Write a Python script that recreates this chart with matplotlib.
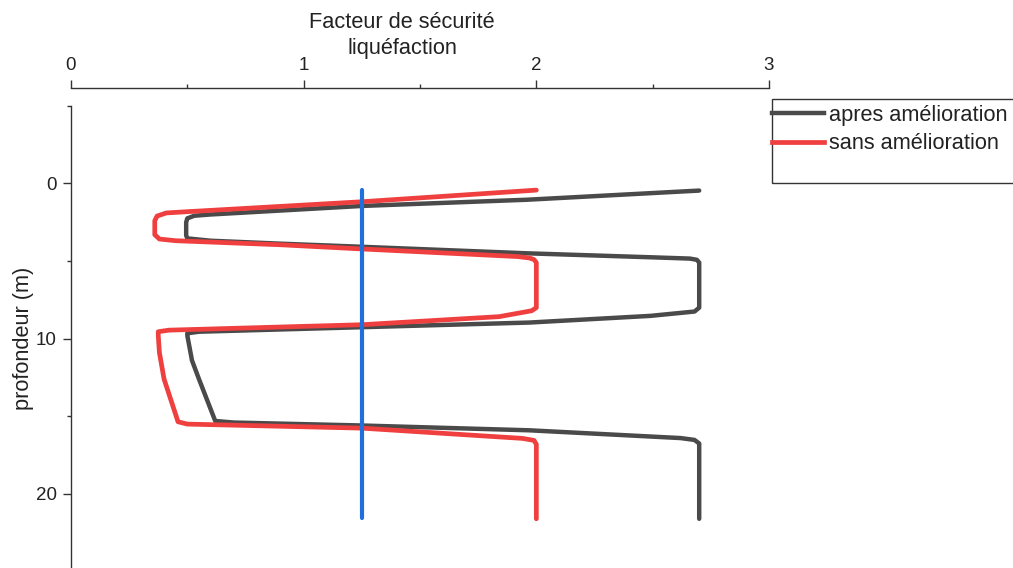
import matplotlib
matplotlib.use("Agg")
import matplotlib.pyplot as plt
from matplotlib.lines import Line2D
from matplotlib.patches import Rectangle

plt.rcParams['font.family'] = ['Liberation Sans', 'DejaVu Sans']

# Safety factor profiles (FS vs depth in m)
apres_fs = [2.70, 1.96, 1.25, 0.60, 0.53, 0.50, 0.495, 0.495, 0.50, 0.60, 0.90, 1.25,
            1.96, 2.50, 2.66, 2.69, 2.70, 2.70, 2.68, 2.49, 1.97, 1.25, 0.55, 0.50,
            0.50, 0.52, 0.55, 0.62, 0.70, 1.25, 1.97, 2.62, 2.68, 2.70, 2.70]
apres_depth = [0.46, 1.05, 1.45, 2.00, 2.08, 2.25, 2.50, 3.35, 3.54, 3.69, 3.88, 4.08,
               4.50, 4.76, 4.84, 4.92, 5.10, 8.00, 8.25, 8.53, 8.96, 9.26, 9.55, 9.65,
               9.80, 11.40, 12.60, 15.30, 15.40, 15.59, 15.90, 16.40, 16.52, 16.75, 21.60]

sans_fs = [2.00, 1.25, 0.50, 0.41, 0.37, 0.36, 0.36, 0.38, 0.45, 0.90, 1.25,
           1.92, 1.97, 1.99, 2.00, 2.00, 1.98, 1.84, 1.25, 0.42, 0.375, 0.375,
           0.38, 0.40, 0.46, 0.50, 1.25, 1.76, 1.94, 1.99, 2.00, 2.00]
sans_depth = [0.43, 1.18, 1.82, 1.90, 2.10, 2.40, 3.30, 3.58, 3.69, 3.95, 4.22,
              4.71, 4.80, 4.90, 5.10, 8.00, 8.20, 8.58, 9.10, 9.45, 9.55, 9.80,
              10.90, 12.60, 15.35, 15.50, 15.76, 16.25, 16.42, 16.55, 16.80, 21.60]

seuil_fs = [1.25, 1.25]
seuil_depth = [0.45, 21.55]

x_ticks = [0, 1, 2, 3]
y_ticks = [0, 10, 20]

W, H = 1013, 568
fig = plt.figure(figsize=(W / 100, H / 100), dpi=100)
ax = fig.add_axes([71 / W, (H - 571.6) / H, (769 - 71) / W, (571.6 - 105.8) / H])

c_black = '#4a4a4a'
c_red = '#ef3f3f'
c_blue = '#1f6fdc'

ax.plot(apres_fs, apres_depth, color=c_black, lw=3.2, solid_joinstyle='round',
        solid_capstyle='round', label='apres amélioration')
ax.plot(sans_fs, sans_depth, color=c_red, lw=3.4, solid_joinstyle='round',
        solid_capstyle='round', label='sans amélioration')
ax.plot(seuil_fs, seuil_depth, color=c_blue, lw=3.0, solid_capstyle='round')

ax.set_xlim(0, 3)
ax.set_ylim(25, -5)

# Axis styling: top x axis detached, left y axis
for s in ['right', 'bottom']:
    ax.spines[s].set_visible(False)
ax.spines['top'].set_position(('outward', 12.6))
for s in ['top', 'left']:
    ax.spines[s].set_color('#333333')
    ax.spines[s].set_linewidth(1.0)

ax.xaxis.set_ticks_position('top')
ax.xaxis.set_label_position('top')
ax.set_xticks(x_ticks)
ax.set_xticks([0.5, 1.5, 2.5], minor=True)
ax.set_yticks(y_ticks)
ax.set_yticks([-5, 5, 15, 25], minor=True)
ax.tick_params(axis='both', which='major', length=5.8, width=1.0, color='#333333',
               labelsize=13.5, labelcolor='#222222')
ax.tick_params(axis='both', which='minor', length=2.9, width=1.0, color='#333333')
ax.tick_params(axis='x', which='major', pad=4.2)
ax.tick_params(axis='y', which='major', pad=4.5)

ax.set_xlabel('Facteur de sécurité\nliquéfaction', fontsize=15.7, color='#222222',
              linespacing=1.35)
ax.xaxis.set_label_coords((402 - 71) / (769 - 71), (571.6 - 35.5) / (571.6 - 105.8))
ax.xaxis.label.set_verticalalignment('center')
ax.set_ylabel('profondeur (m)', fontsize=15.7, color='#222222', labelpad=1)

# Legend with a plain rectangular frame
handles = [Line2D([], [], color=c_black, lw=3.2),
           Line2D([], [], color=c_red, lw=3.4)]
labels = ['apres amélioration', 'sans amélioration']
fig.legend(handles, labels, loc='upper left',
           bbox_to_anchor=(772 / W, 1 - 104.8 / H), frameon=False, fontsize=15.7,
           borderpad=0, borderaxespad=0, handlelength=2.4, handletextpad=0.22,
           labelspacing=0.35, labelcolor='#222222')
fig.patches.append(Rectangle((772 / W, 1 - 183 / H), 260 / W, 84 / H,
                             transform=fig.transFigure, fill=False,
                             edgecolor='#333333', lw=1.0))

fig.savefig('out.png', dpi=100)
